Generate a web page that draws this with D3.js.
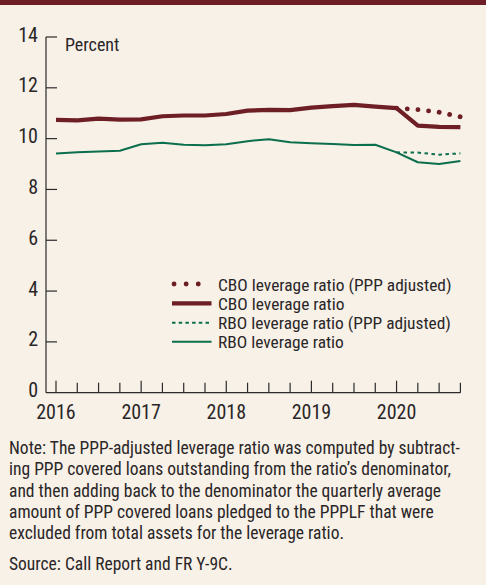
<!DOCTYPE html>
<html>
<head>
<meta charset="utf-8">
<script src="https://cdn.jsdelivr.net/npm/d3@7"></script>
<style>
  html, body { margin: 0; padding: 0; background: #f8f1e7; }
  svg { display: block; }
  text { font-family: "Liberation Sans Narrow", "Arial Narrow", "Roboto Condensed", "Liberation Sans", sans-serif; fill: #2a2627; }
</style>
</head>
<body>
<svg id="chart" width="486" height="585"></svg>
<script>
// ---- data (quarterly, 2016:Q1 – 2020:Q4) ----
const quarters = d3.range(20).map(i => 2016 + i / 4);
const cboRatio = [10.74, 10.72, 10.79, 10.75, 10.76, 10.88, 10.91, 10.91, 10.97, 11.10,
                  11.13, 11.12, 11.22, 11.28, 11.33, 11.26, 11.20, 10.51, 10.46, 10.45];
const cboAdjQuarters = [2020, 2020.25, 2020.5, 2020.75];
const cboAdjusted = [11.20, 11.14, 11.04, 10.86];
const rboRatio = [9.41, 9.46, 9.49, 9.52, 9.78, 9.84, 9.76, 9.74, 9.78, 9.90,
                  9.98, 9.86, 9.82, 9.79, 9.75, 9.76, 9.46, 9.07, 9.00, 9.12];
const rboAdjQuarters = [2020, 2020.25, 2020.5, 2020.75];
const rboAdjusted = [9.46, 9.45, 9.37, 9.42];
const yTicks = [0, 2, 4, 6, 8, 10, 12, 14];
const yearLabels = [2016, 2017, 2018, 2019, 2020];
const legendLabels = [
  "CBO leverage ratio (PPP adjusted)",
  "CBO leverage ratio",
  "RBO leverage ratio (PPP adjusted)",
  "RBO leverage ratio"
];
const noteLines = [
  "Note: The PPP-adjusted leverage ratio was computed by subtract-",
  "ing PPP covered loans outstanding from the ratio\u2019s denominator,",
  "and then adding back to the denominator the quarterly average",
  "amount of PPP covered loans pledged to the PPPLF that were",
  "excluded from total assets for the leverage ratio."
];
const sourceLine = "Source: Call Report and FR Y-9C.";

// ---- styling ----
const RED = "#6e1f26";
const GREEN = "#0b6e4c";
const AXIS = "#2b2b2b";

const svg = d3.select("#chart");
svg.append("rect").attr("x", 0).attr("y", 0).attr("width", 486).attr("height", 585).attr("fill", "#f8f1e7");
svg.append("rect").attr("x", 0).attr("y", 0).attr("width", 486).attr("height", 5).attr("fill", "#6e1f25");

const x = d3.scaleLinear().domain([2016, 2020.75]).range([56, 460.4]);
const y = d3.scaleLinear().domain([0, 14]).range([392.7, 37]);
const axisLeftX = 46;

// y axis
const gy = svg.append("g");
gy.append("line").attr("x1", axisLeftX).attr("x2", axisLeftX).attr("y1", y(14)).attr("y2", y(0))
  .attr("stroke", AXIS).attr("stroke-width", 1.2);
gy.selectAll("line.t").data(yTicks.filter(d => d > 0)).join("line").attr("class", "t")
  .attr("x1", axisLeftX).attr("x2", axisLeftX + 11)
  .attr("y1", d => y(d)).attr("y2", d => y(d)).attr("stroke", AXIS).attr("stroke-width", 1.2);
gy.selectAll("text").data(yTicks).join("text")
  .attr("x", 38).attr("y", d => y(d) + 4.5).attr("text-anchor", "end")
  .style("font-size", "20px").text(d => d);

// percent label
svg.append("text").attr("x", 65).attr("y", 51).style("font-size", "18px").text("Percent");

// x axis
const gx = svg.append("g");
gx.append("line").attr("x1", axisLeftX).attr("x2", x(2020.75)).attr("y1", y(0)).attr("y2", y(0))
  .attr("stroke", AXIS).attr("stroke-width", 1.2);
gx.selectAll("line.t").data(quarters).join("line").attr("class", "t")
  .attr("x1", d => x(d)).attr("x2", d => x(d))
  .attr("y1", y(0)).attr("y2", (d, i) => y(0) - (i % 4 === 0 ? 12 : 10))
  .attr("stroke", AXIS).attr("stroke-width", 1.2);
gx.selectAll("text").data(yearLabels).join("text")
  .attr("x", d => x(d)).attr("y", 419).attr("text-anchor", "middle")
  .style("font-size", "20px").text(d => d);

// lines
const line = d3.line().x(d => x(d[0])).y(d => y(d[1]));
const zip = (a, b) => a.map((v, i) => [v, b[i]]);

svg.append("path").datum(zip(quarters, rboRatio)).attr("d", line)
  .attr("fill", "none").attr("stroke", GREEN).attr("stroke-width", 2).attr("stroke-linejoin", "round");
svg.append("path").datum(zip(rboAdjQuarters, rboAdjusted)).attr("d", line)
  .attr("fill", "none").attr("stroke", GREEN).attr("stroke-width", 2).attr("stroke-dasharray", "3.5 3.5");
svg.append("path").datum(zip(quarters, cboRatio)).attr("d", line)
  .attr("fill", "none").attr("stroke", RED).attr("stroke-width", 4.2).attr("stroke-linejoin", "round");
svg.append("path").datum(zip(cboAdjQuarters, cboAdjusted)).attr("d", line)
  .attr("fill", "none").attr("stroke", RED).attr("stroke-width", 4.8)
  .attr("stroke-linecap", "round").attr("stroke-dasharray", "0.1 10.6");

// legend
const legY = [284, 303.3, 322.7, 341.7];
const legStyles = [
  { c: RED, w: 4.8, dash: "0.1 12", cap: "round" },
  { c: RED, w: 4.2, dash: null, cap: "butt" },
  { c: GREEN, w: 2, dash: "3.5 3.2", cap: "butt" },
  { c: GREEN, w: 2, dash: null, cap: "butt" }
];
const leg = svg.append("g");
legendLabels.forEach((lab, i) => {
  const s = legStyles[i];
  const ln = leg.append("line").attr("x1", s.cap === "round" ? 174 : 172).attr("x2", s.cap === "round" ? 210 : 211.5)
    .attr("y1", legY[i]).attr("y2", legY[i])
    .attr("stroke", s.c).attr("stroke-width", s.w).attr("stroke-linecap", s.cap);
  if (s.dash) ln.attr("stroke-dasharray", s.dash);
  leg.append("text").attr("x", 218).attr("y", legY[i] + 6.5).style("font-size", "17.4px").text(lab);
});

// note
const ng = svg.append("g");
noteLines.forEach((t, i) => {
  ng.append("text").attr("x", 9).attr("y", 454 + i * 21.3).style("font-size", "17.5px").text(t);
});
ng.append("text").attr("x", 9).attr("y", 569.5).style("font-size", "17.5px").text(sourceLine);
</script>
</body>
</html>
